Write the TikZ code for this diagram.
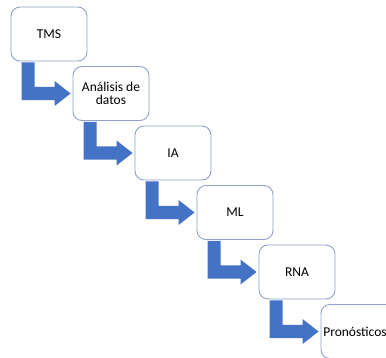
\documentclass[tikz,border=0pt]{standalone}
\usepackage{fontspec}
\setmainfont{Carlito}
\usetikzlibrary{calc}
\definecolor{stepedge}{RGB}{143,162,200}
\definecolor{stepblue}{RGB}{68,114,196}
\tikzset{
  stepbox/.style={draw=stepedge, line width=0.9pt, fill=white, rounded corners=9pt,
    minimum width=76pt, minimum height=54pt, inner sep=2pt, align=center,
    font=\fontsize{13.5}{12.8}\selectfont},
  bentarrow/.style={fill=stepblue}
}
\begin{document}
\begin{tikzpicture}[x=1pt,y=-1pt]
  \useasboundingbox (0,0) rectangle (386,357);
  \clip (0,0) rectangle (386,357);
  % process steps, each one step down and to the right
  \node[stepbox] (b1) at (49,34)    {TMS};
  \node[stepbox] (b2) at (111,93.5) {Análisis de\\datos};
  \node[stepbox] (b3) at (173,153)  {IA};
  \node[stepbox] (b4) at (235,212.5){ML};
  \node[stepbox] (b5) at (297,272)  {RNA};
  \node[stepbox] (b6) at (359,331.5){\hspace*{-8pt}Pronósticos};
  % bent arrows from the bottom of one step to the side of the next
  \foreach \i/\j in {1/2,2/3,3/4,4/5,5/6}{
    \fill[bentarrow] let \p1=(b\i.south west), \p2=(b\j.west) in
      (\x1+11pt,\y1-1pt) -- (\x1+11pt,\y2-6.7pt) -- (\x2-18pt,\y2-6.7pt)
      -- (\x2-18pt,\y2-12.5pt) -- (\x2-2pt,\y2) -- (\x2-18pt,\y2+12.5pt)
      -- (\x2-18pt,\y2+6.7pt) -- (\x1+24pt,\y2+6.7pt) -- (\x1+24pt,\y1-1pt) -- cycle;
  }
\end{tikzpicture}
\end{document}
